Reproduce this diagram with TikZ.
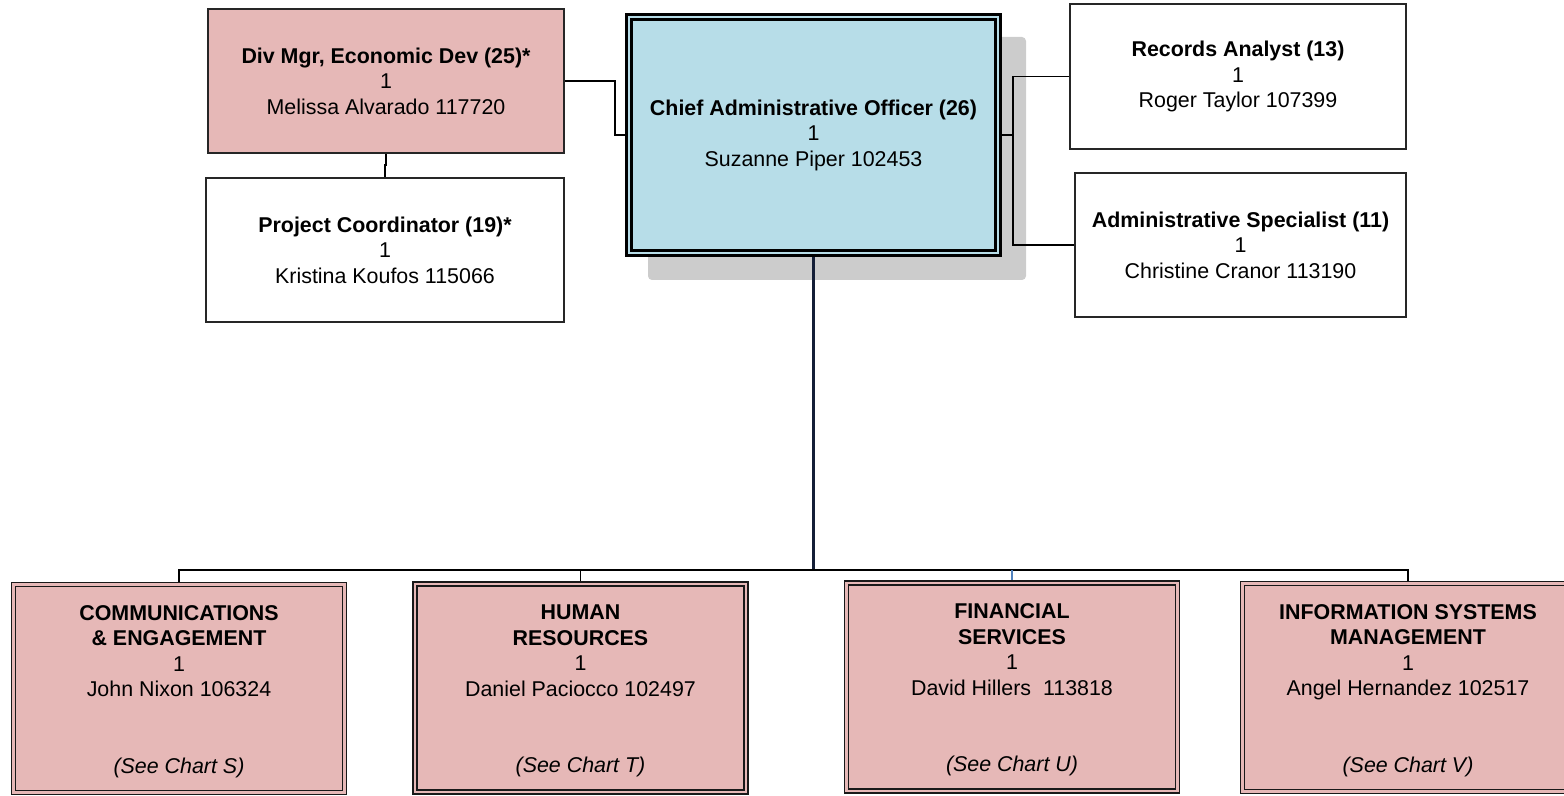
\documentclass[tikz,border=0pt]{standalone}
\usepackage{fontspec}
\setmainfont{Liberation Sans}
\usetikzlibrary{backgrounds,calc}
\definecolor{pinkbox}{RGB}{230,184,183}
\definecolor{bluebox}{RGB}{183,221,232}
\definecolor{shadowgray}{RGB}{204,204,204}
\definecolor{navyline}{RGB}{20,30,55}
\definecolor{dropblue}{RGB}{79,129,189}
\newcommand{\topstrut}{\rule{0pt}{10.7pt}}
\begin{document}
\begin{tikzpicture}[x=0.5pt,y=-0.5pt,
  every node/.style={font=\fontsize{10.7}{12.75}\selectfont, align=center, inner sep=0pt, outer sep=0pt},
  posbox/.style={draw=black!85, line width=0.6pt, fill=white},
  pinkpos/.style={posbox, fill=pinkbox},
  caobox/.style={draw=black, line width=1.4pt, double=bluebox, double distance=1.2pt, fill=bluebox},
  unitbox/.style={draw=black!90, line width=0.7pt, double=pinkbox, double distance=1.2pt, fill=pinkbox, minimum width=165.5pt, minimum height=104pt},
  conn/.style={line width=0.75pt, black},
  shadowbox/.style={fill=shadowgray, rounded corners=2pt}]
\useasboundingbox (0,0) rectangle (1564,796);
\clip (0,0) rectangle (1564,796);

\node[pinkpos, minimum width=178pt, minimum height=72pt] (dm) at (386,81)
  {\textbf{Div Mgr, Economic Dev (25)*}\\1\\Melissa Alvarado 117720};
\node[posbox, minimum width=179pt, minimum height=72pt] (pc) at (385,250)
  {\textbf{Project Coordinator (19)*}\\1\\Kristina Koufos 115066};
\node[caobox, minimum width=184.5pt, minimum height=118pt] (cao) at (813.5,135)
  {\textbf{Chief Administrative Officer (26)}\\1\\Suzanne Piper 102453};
\node[posbox, minimum width=168pt, minimum height=72.5pt] (ra) at (1238,76.5)
  {\textbf{Records Analyst (13)}\\1\\Roger Taylor 107399};
\node[posbox, minimum width=165.5pt, minimum height=72pt] (as) at (1240.5,245)
  {\textbf{Administrative Specialist (11)}\\1\\Christine Cranor 113190};

\node[unitbox] (u1) at (179,688.5)
  {\topstrut\textbf{COMMUNICATIONS}\\\textbf{\& ENGAGEMENT}\\1\\John Nixon 106324\\[25.5pt]\textit{(See Chart S)}};
\node[unitbox] (u2) at (580.5,688)
  {\topstrut\textbf{HUMAN}\\\textbf{RESOURCES}\\1\\Daniel Paciocco 102497\\[25.5pt]\textit{(See Chart T)}};
\node[unitbox] (u3) at (1012,687)
  {\topstrut\textbf{FINANCIAL}\\\textbf{SERVICES}\\1\\David Hillers\ \ 113818\\[25.5pt]\textit{(See Chart U)}};
\node[unitbox] (u4) at (1408,687.5)
  {\topstrut\textbf{INFORMATION SYSTEMS}\\\textbf{MANAGEMENT}\\1\\Angel Hernandez 102517\\[25.5pt]\textit{(See Chart V)}};

\coordinate (lj) at (615,108);
\coordinate (rj) at (1013,135);
\coordinate (bus) at (813.5,570);

\begin{pgfonlayer}{background}
  \path[shadowbox] (648,37) rectangle (1026,280);
  \draw[conn] (dm.south) -- ++(0,12) -| (pc.north);
  \draw[conn] (dm.east) -| (lj) |- (cao.west);
  \draw[conn] (cao.east) -- (rj);
  \draw[conn] (ra.west) -| (rj) |- (as.west);
  \draw[line width=1.1pt, navyline] (cao.south) -- (bus);
  \draw[conn] (u1.north) |- (bus) -| (u4.north);
  \draw[conn] (u2.north) -- (u2.north |- bus);
  \draw[line width=0.6pt, dropblue] (u3.north) -- (u3.north |- bus);
\end{pgfonlayer}
\end{tikzpicture}
\end{document}
